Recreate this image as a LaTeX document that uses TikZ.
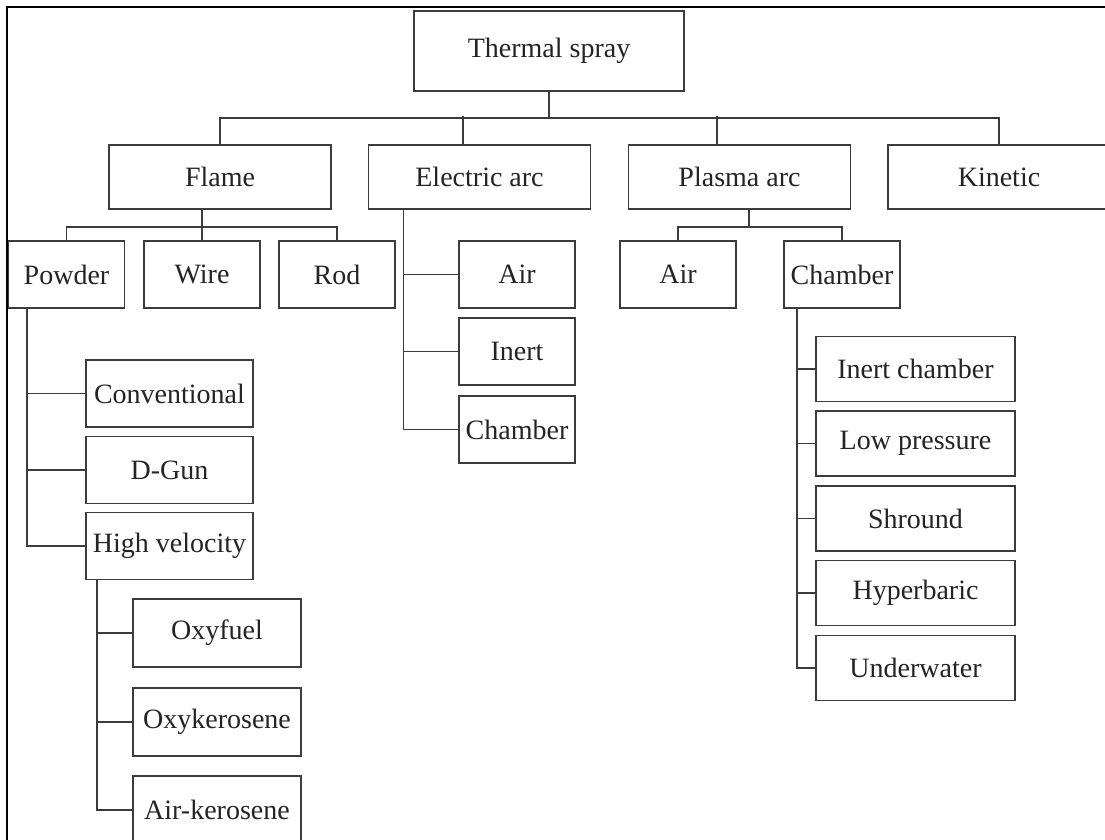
\documentclass[tikz,border=0pt]{standalone}
\usepackage{fontspec}
\setmainfont{Liberation Serif}
\usetikzlibrary{calc}
\definecolor{linegray}{HTML}{3C3C3C}
\definecolor{textgray}{HTML}{242424}

\begin{document}
\begin{tikzpicture}[x=0.5pt, y=-0.5pt, font=\fontsize{14}{16}\selectfont, text=textgray,
  box/.style={draw=linegray, line width=0.8pt, inner sep=0pt},
  lvlA/.style={box, minimum width=111pt, minimum height=32pt},
  lvlB/.style={box, minimum width=58pt, minimum height=33.5pt},
  lnk/.style={draw=linegray, line width=0.8pt}]

  \clip (0,0) rectangle (1105,840);
  \fill[white] (0,0) rectangle (1105,840);

  % Frame (cropped on the right and at the bottom)
  \draw[line width=1.3pt, black] (7,840) -- (7,7) -- (1105,7);

  % ---- Root and first level ----
  \node[box, minimum width=135pt, minimum height=40pt] (ts) at (549,51) {Thermal spray};
  \node[lvlA] (flame) at (220,177) {Flame};
  \node[lvlA] (earc) at (479.5,177) {Electric arc};
  \node[lvlA] (parc) at (739.5,177) {Plasma arc};
  \node[lvlA] (kin) at (999,177) {Kinetic};

  \draw[lnk] (ts.south) -- ++(0,26) coordinate (tbus);
  \draw[lnk] (flame.north) |- (tbus) -| (kin.north);
  \draw[lnk] ([xshift=-8.25pt]earc.north) -- ++(0,-28);
  \draw[lnk] ([xshift=-11.25pt]parc.north) -- ++(0,-28);

  % ---- Flame ----
  \node[lvlB] (powder) at (66.5,274.5) {Powder};
  \node[lvlB] (wire) at (202,274.5) {Wire};
  \node[lvlB] (rod) at (337,274.5) {Rod};

  \draw[lnk] ([xshift=-9pt]flame.south) -- (wire.north);
  \draw[lnk] ([xshift=-9pt]flame.south) -- ++(0,17) coordinate (fbus);
  \draw[lnk] (powder.north) |- (fbus) -| (rod.north);

  % Powder
  \node[box, minimum width=83.5pt, minimum height=33.5pt] (conv) at (169.5,393.5) {Conventional};
  \node[box, minimum width=83.5pt, minimum height=33.5pt] (dgun) at (169.5,470) {D-Gun};
  \node[box, minimum width=83.5pt, minimum height=33.5pt] (hvel) at (169.5,546) {High velocity};

  \draw[lnk] ([xshift=-19.75pt]powder.south) |- (conv.west);
  \draw[lnk] ([xshift=-19.75pt]powder.south) |- (dgun.west);
  \draw[lnk] ([xshift=-19.75pt]powder.south) |- (hvel.west);

  % High velocity
  \node[box, minimum width=84pt, minimum height=34pt] (oxyf) at (217,633) {Oxyfuel};
  \node[box, minimum width=84pt, minimum height=34pt] (oxyk) at (217,722) {Oxykerosene};
  \node[box, minimum width=84pt, minimum height=34pt] (airk) at (217,810) {Air-kerosene};

  \draw[lnk] ([xshift=-36.25pt]hvel.south) |- (oxyf.west);
  \draw[lnk] ([xshift=-36.25pt]hvel.south) |- (oxyk.west);
  \draw[lnk] ([xshift=-36.25pt]hvel.south) |- (airk.west);

  % ---- Electric arc ----
  \node[lvlB] (eair) at (517,274.5) {Air};
  \node[lvlB] (einert) at (517,351.5) {Inert};
  \node[lvlB] (echam) at (517,429.5) {Chamber};

  \draw[lnk] ([xshift=-38pt]earc.south) |- (eair.west);
  \draw[lnk] ([xshift=-38pt]earc.south) |- (einert.west);
  \draw[lnk] ([xshift=-38pt]earc.south) |- (echam.west);

  % ---- Plasma arc ----
  \node[lvlB] (pair) at (678,274.5) {Air};
  \node[lvlB] (pcham) at (842,274.5) {Chamber};

  \draw[lnk] ([xshift=4.75pt]parc.south) -- ++(0,17) coordinate (pbus);
  \draw[lnk] (pair.north) |- (pbus) -| (pcham.north);

  % Chamber
  \node[box, minimum width=99.5pt, minimum height=32.5pt] (inch) at (915.5,369) {Inert chamber};
  \node[box, minimum width=99.5pt, minimum height=32.5pt] (lowp) at (915.5,443.5) {Low pressure};
  \node[box, minimum width=99.5pt, minimum height=32.5pt] (shro) at (915.5,518.5) {Shround};
  \node[box, minimum width=99.5pt, minimum height=32.5pt] (hypb) at (915.5,593) {Hyperbaric};
  \node[box, minimum width=99.5pt, minimum height=32.5pt] (undw) at (915.5,668) {Underwater};

  \draw[lnk] ([xshift=-22.5pt]pcham.south) |- (inch.west);
  \draw[lnk] ([xshift=-22.5pt]pcham.south) |- (lowp.west);
  \draw[lnk] ([xshift=-22.5pt]pcham.south) |- (shro.west);
  \draw[lnk] ([xshift=-22.5pt]pcham.south) |- (hypb.west);
  \draw[lnk] ([xshift=-22.5pt]pcham.south) |- (undw.west);

\end{tikzpicture}
\end{document}
